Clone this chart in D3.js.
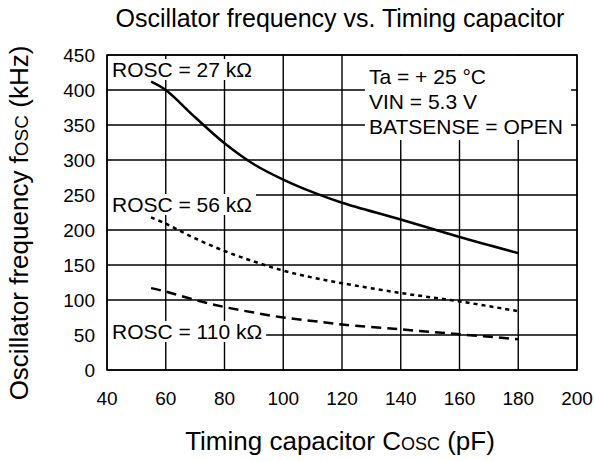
<!DOCTYPE html>
<html>
<head>
<meta charset="utf-8">
<script src="https://cdn.jsdelivr.net/npm/d3@7"></script>
<style>
  body { margin: 0; background: #fff; }
  text { font-family: "Liberation Sans", Arial, sans-serif; fill: #000; }
</style>
</head>
<body>
<div id="main"></div>
<script>
// values
var capacitor = [55, 60, 70, 80, 90, 100, 110, 120, 140, 160, 180];
var freq27k = [412, 400, 361, 324, 294, 272, 254, 239, 215, 190, 167];
var freq56k = [218, 209, 188, 170, 155, 142, 132, 124, 110, 98, 84];
var freq110k = [117, 112, 100, 90, 82, 75, 70, 65, 58, 51, 44];

var xTicks = [40, 60, 80, 100, 120, 140, 160, 180, 200];
var yTicks = [0, 50, 100, 150, 200, 250, 300, 350, 400, 450];

var series = [
  { name: '27k', values: freq27k, dash: null },
  { name: '56k', values: freq56k, dash: '4,4' },
  { name: '110k', values: freq110k, dash: '10,6' }
];

var conditions = ['Ta = + 25 \u00B0C', 'VIN = 5.3 V', 'BATSENSE = OPEN'];

function draw_chart() {

  var width = 594, height = 461;
  var plotLeft = 107, plotRight = 577, plotTop = 55, plotBottom = 370;

  var svg = d3.select('#main').append('svg')
    .attr('width', width)
    .attr('height', height);

  var xScale = d3.scaleLinear().domain([40, 200]).range([plotLeft, plotRight]);
  var yScale = d3.scaleLinear().domain([0, 450]).range([plotBottom, plotTop]);

  // grid
  svg.append('g')
    .selectAll('line')
    .data(xTicks)
    .enter()
    .append('line')
    .attr('x1', function (d) { return xScale(d) })
    .attr('x2', function (d) { return xScale(d) })
    .attr('y1', plotTop)
    .attr('y2', plotBottom)
    .attr('stroke', '#000')
    .attr('stroke-width', 1.4);

  svg.append('g')
    .selectAll('line')
    .data(yTicks)
    .enter()
    .append('line')
    .attr('x1', plotLeft)
    .attr('x2', plotRight)
    .attr('y1', function (d) { return yScale(d) })
    .attr('y2', function (d) { return yScale(d) })
    .attr('stroke', '#000')
    .attr('stroke-width', 1.4);

  // tick labels
  svg.append('g')
    .selectAll('text')
    .data(yTicks)
    .enter()
    .append('text')
    .attr('x', plotLeft - 12)
    .attr('y', function (d) { return yScale(d) + 7 })
    .attr('text-anchor', 'end')
    .attr('font-size', 19)
    .text(function (d) { return d });

  svg.append('g')
    .selectAll('text')
    .data(xTicks)
    .enter()
    .append('text')
    .attr('x', function (d) { return xScale(d) })
    .attr('y', plotBottom + 35)
    .attr('text-anchor', 'middle')
    .attr('font-size', 19)
    .text(function (d) { return d });

  // curves
  var lineGenerator = d3.line()
    .x(function (d, i) { return xScale(capacitor[i]) })
    .y(function (d) { return yScale(d) })
    .curve(d3.curveCatmullRom);

  series.forEach(function (s) {
    svg.append('path')
      .datum(s.values)
      .attr('fill', 'none')
      .attr('stroke', '#000')
      .attr('stroke-width', 2.5)
      .attr('stroke-dasharray', s.dash)
      .attr('d', lineGenerator);
  });

  // labels with white background
  function boxedLabel(x, y, txt, padRight) {
    var g = svg.append('g');
    var t = g.append('text')
      .attr('x', x)
      .attr('y', y)
      .attr('font-size', 21)
      .text(txt);
    var bb = t.node().getBBox();
    g.insert('rect', 'text')
      .attr('x', plotLeft + 1)
      .attr('y', bb.y + 1)
      .attr('width', bb.x + bb.width + padRight - plotLeft - 1)
      .attr('height', bb.height - 2)
      .attr('fill', '#fff');
  }

  boxedLabel(112, yScale(450) + 22, 'ROSC = 27 k\u03A9', 3);
  boxedLabel(112, yScale(250) + 17, 'ROSC = 56 k\u03A9', 4);
  boxedLabel(112, yScale(50) + 4, 'ROSC = 110 k\u03A9', 4);

  // conditions box
  svg.append('rect')
    .attr('x', 365)
    .attr('y', plotTop + 1)
    .attr('width', 206)
    .attr('height', 84)
    .attr('fill', '#fff');

  svg.append('g')
    .selectAll('text')
    .data(conditions)
    .enter()
    .append('text')
    .attr('x', 369)
    .attr('y', function (d, i) { return 84 + i * 25 })
    .attr('font-size', 21)
    .text(function (d) { return d });

  // frame
  svg.append('rect')
    .attr('x', plotLeft)
    .attr('y', plotTop)
    .attr('width', plotRight - plotLeft)
    .attr('height', plotBottom - plotTop)
    .attr('fill', 'none')
    .attr('stroke', '#000')
    .attr('stroke-width', 1.5);

  // titles
  svg.append('text')
    .attr('x', 340)
    .attr('y', 27)
    .attr('text-anchor', 'middle')
    .attr('font-size', 25)
    .text('Oscillator frequency vs. Timing capacitor');

  var xTitle = svg.append('text')
    .attr('x', 340)
    .attr('y', 450)
    .attr('text-anchor', 'middle')
    .attr('font-size', 26);
  xTitle.append('tspan').text('Timing capacitor C');
  xTitle.append('tspan').attr('font-size', 18).text('OSC');
  xTitle.append('tspan').text(' (pF)');

  var yTitle = svg.append('text')
    .attr('transform', 'translate(28,223) rotate(-90)')
    .attr('text-anchor', 'middle')
    .attr('font-size', 26);
  yTitle.append('tspan').text('Oscillator frequency f');
  yTitle.append('tspan').attr('font-size', 19).text('OSC');
  yTitle.append('tspan').text(' (kHz)');
}

draw_chart();
</script>
</body>
</html>
